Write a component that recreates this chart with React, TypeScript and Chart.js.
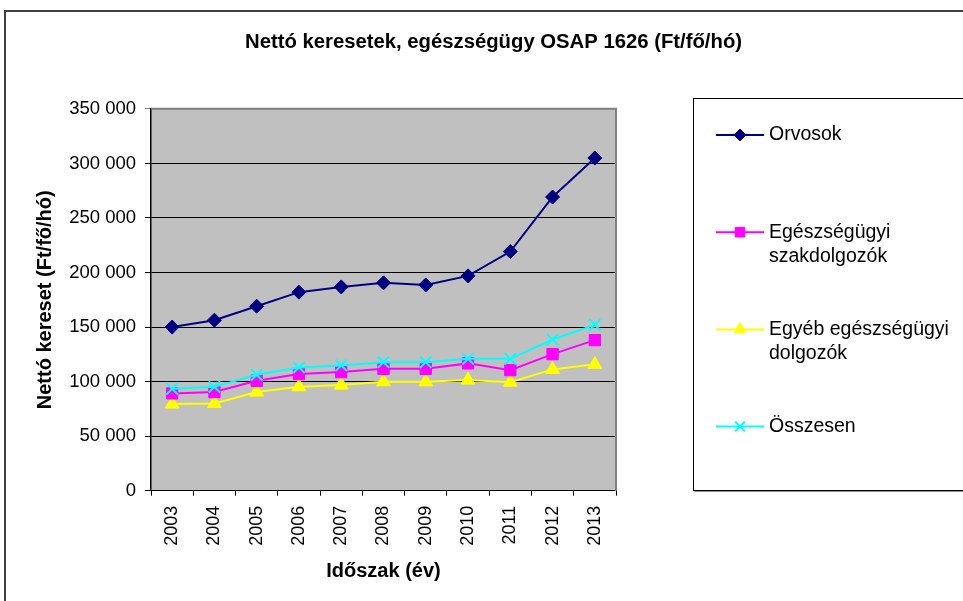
import React, { useEffect, useRef } from 'react';
import { Chart, registerables } from 'chart.js';
import { drawPoint } from 'chart.js/helpers';

Chart.register(...registerables);

const years = ['2003', '2004', '2005', '2006', '2007', '2008', '2009', '2010', '2011', '2012', '2013'];
const orvosok = [150000, 156300, 169100, 182000, 186800, 190500, 188600, 196900, 219200, 269200, 305000];
const szakdolgozok = [89200, 90400, 100700, 106900, 108700, 111700, 111700, 116700, 110500, 125200, 138000];
const egyebDolgozok = [79400, 80000, 90400, 95200, 96800, 99800, 99800, 101400, 99500, 111200, 115800];
const osszesen = [93400, 95200, 106200, 113000, 114800, 117800, 117800, 120900, 120900, 138600, 152000];
const seriesNames = ['Orvosok', 'Egészségügyi szakdolgozók', 'Egyéb egészségügyi dolgozók', 'Összesen'];
const yTickValues = [0, 50000, 100000, 150000, 200000, 250000, 300000, 350000];
const chartTitle = 'Nettó keresetek, egészségügy OSAP 1626 (Ft/fő/hó)';
const xAxisTitle = 'Időszak (év)';
const yAxisTitle = 'Nettó kereset (Ft/fő/hó)';

const FONT = '"Liberation Sans", Arial, sans-serif';

const fmt = (v: number) => String(v).replace(/\B(?=(\d{3})+(?!\d))/g, ' ');

const decorPlugin = {
  id: 'decor',
  beforeDraw(chart: any) {
    const { ctx, chartArea: a } = chart;
    ctx.save();
    ctx.fillStyle = '#FFFFFF';
    ctx.fillRect(0, 0, chart.width, chart.height);
    ctx.fillStyle = '#C0C0C0';
    ctx.fillRect(a.left, a.top, a.right - a.left, a.bottom - a.top);
    ctx.restore();
  },
  afterDraw(chart: any) {
    const { ctx, chartArea: a } = chart;
    ctx.save();
    // plot border top/right
    ctx.strokeStyle = '#808080';
    ctx.lineWidth = 2;
    ctx.beginPath();
    ctx.moveTo(a.left, a.top);
    ctx.lineTo(a.right, a.top);
    ctx.lineTo(a.right, a.bottom);
    ctx.stroke();
    // outer frame
    ctx.strokeStyle = '#404040';
    ctx.lineWidth = 2;
    ctx.beginPath();
    ctx.moveTo(5, chart.height + 2);
    ctx.lineTo(5, 11);
    ctx.lineTo(chart.width + 2, 11);
    ctx.stroke();
    // legend box
    const bx = 693.5, by = 98.5, bb = 490.5;
    ctx.strokeStyle = '#000000';
    ctx.lineWidth = 1;
    ctx.strokeRect(bx, by, chart.width + 10 - bx, bb - by);
    ctx.strokeStyle = '#909090';
    ctx.beginPath();
    ctx.moveTo(bx + 1, bb + 1);
    ctx.lineTo(chart.width + 2, bb + 1);
    ctx.stroke();
    // legend entries
    const textX = 769;
    const maxW = 186;
    ctx.font = '19.5px ' + FONT;
    ctx.textBaseline = 'middle';
    ctx.textAlign = 'left';
    chart.data.datasets.forEach((ds: any, i: number) => {
      const y = 135 + i * 97.2;
      ctx.strokeStyle = ds.borderColor;
      ctx.lineWidth = 2;
      ctx.beginPath();
      ctx.moveTo(716, y);
      ctx.lineTo(764, y);
      ctx.stroke();
      ctx.fillStyle = ds.pointBackgroundColor;
      ctx.strokeStyle = ds.pointBorderColor;
      ctx.lineWidth = ds.pointBorderWidth;
      drawPoint(ctx, { pointStyle: ds.pointStyle, rotation: 0, radius: ds.pointRadius * 0.85, borderWidth: ds.pointBorderWidth }, 740, y);
      // wrap text
      const words = String(ds.label).split(' ');
      const lines: string[] = [];
      let cur = '';
      words.forEach((w) => {
        const t = cur ? cur + ' ' + w : w;
        if (ctx.measureText(t).width > maxW && cur) {
          lines.push(cur);
          cur = w;
        } else cur = t;
      });
      if (cur) lines.push(cur);
      ctx.fillStyle = '#000000';
      lines.forEach((ln, k) => ctx.fillText(ln, textX, y + k * 24));
    });
    ctx.restore();
  },
};

export default function App() {
  const ref = useRef<HTMLCanvasElement | null>(null);
  useEffect(() => {
    if (!ref.current) return;
    const mk = (label: string, data: number[], color: string, style: string, r: number, bw: number, order: number) => ({
      label,
      data,
      borderColor: color,
      backgroundColor: color,
      pointBackgroundColor: color,
      pointBorderColor: color,
      pointStyle: style,
      pointRadius: r,
      pointBorderWidth: bw,
      borderWidth: 2,
      tension: 0,
      order,
      yAxisID: 'y',
    });
    const chart = new Chart(ref.current, {
      type: 'line',
      data: {
        labels: years,
        datasets: [
          mk(seriesNames[0], orvosok, '#000080', 'rectRot', 7, 1, 1),
          mk(seriesNames[1], szakdolgozok, '#FF00FF', 'rect', 8, 1, 3),
          mk(seriesNames[2], egyebDolgozok, '#FFFF00', 'triangle', 8, 1, 4),
          mk(seriesNames[3], osszesen, '#00FFFF', 'crossRot', 8, 2, 2),
        ] as any,
      },
      options: {
        responsive: false,
        animation: false,
        devicePixelRatio: 1,
        layout: { padding: { left: 24, right: 0, top: 0, bottom: 0 } },
        plugins: {
          legend: { display: false },
          tooltip: { enabled: false },
          title: {
            display: true,
            text: chartTitle,
            color: '#000000',
            font: { family: FONT, size: 20.3, weight: 'bold' },
            padding: { top: 30, bottom: 54.5 },
          },
        },
        scales: {
          x: {
            type: 'category',
            offset: true,
            afterFit: (s: any) => { s.height = 110.3; },
            grid: { offset: true, drawOnChartArea: false, drawTicks: true, tickLength: 5, color: '#000000' },
            border: { display: true, color: '#000000', width: 1 },
            ticks: { minRotation: 90, maxRotation: 90, autoSkip: false, color: '#000000', font: { family: FONT, size: 18 }, padding: 10 },
            title: { display: true, text: xAxisTitle, color: '#000000', font: { family: FONT, size: 20, weight: 'bold' }, padding: { top: 0, bottom: 18 } },
          },
          y: {
            type: 'linear',
            position: 'left',
            min: 0,
            max: 350000,
            afterBuildTicks: (s: any) => { s.ticks = yTickValues.map((v) => ({ value: v })); },
            afterFit: (s: any) => { s.width = 127; },
            grid: {
              color: (c: any) => (c.tick && c.tick.value === 350000 ? '#808080' : '#000000'),
              lineWidth: 1,
              tickLength: 6,
            },
            border: { display: true, color: '#000000', width: 1.5 },
            ticks: { color: '#000000', font: { family: FONT, size: 18.5 }, padding: 9, callback: (v: any) => fmt(Number(v)) },
            title: { display: true, text: yAxisTitle, color: '#000000', font: { family: FONT, size: 20, weight: 'bold' }, padding: { top: 9, bottom: 0 } },
          },
          yR: {
            type: 'linear',
            position: 'right',
            display: true,
            afterFit: (s: any) => { s.width = 347; },
            grid: { display: false },
            ticks: { display: false },
            border: { display: false },
          },
        },
      } as any,
      plugins: [decorPlugin],
    });
    return () => chart.destroy();
  }, []);
  return (
    <div style={{ position: 'absolute', left: 0, top: 0, width: 963, height: 601 }}>
      <canvas ref={ref} width={963} height={601} style={{ width: 963, height: 601, display: 'block' }} />
    </div>
  );
}
